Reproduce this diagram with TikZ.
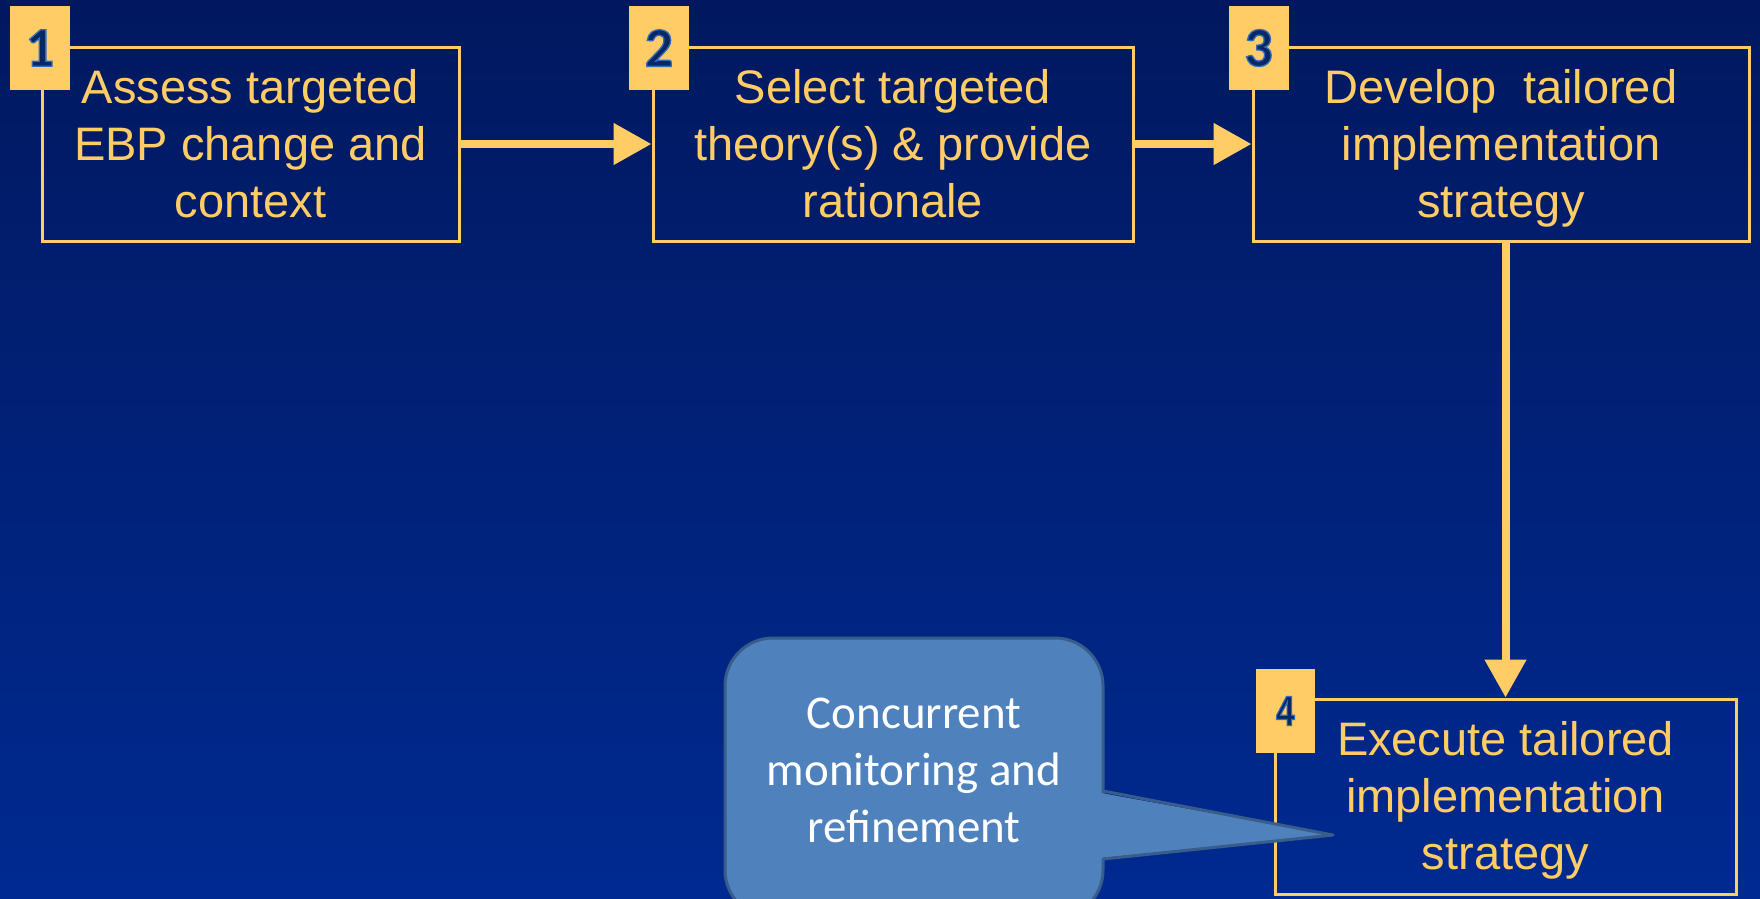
\documentclass[tikz,border=0pt]{standalone}
\usepackage{fontspec}
\usepackage{graphicx}
\setmainfont{Liberation Sans}
\newfontfamily\calibrifont{Carlito}
\usetikzlibrary{arrows.meta}

\definecolor{bgtop}{RGB}{1,24,95}
\definecolor{bgbot}{RGB}{0,42,145}
\definecolor{gold}{RGB}{255,204,102}
\definecolor{calloutfill}{RGB}{79,129,189}
\definecolor{calloutedge}{RGB}{56,93,138}
\definecolor{numblue}{RGB}{8,40,100}

% struts giving every three-line label the same vertical extent
\newcommand\lnup{\rule{0pt}{42pt}}
\newcommand\lndown{\rule[-10pt]{0pt}{10pt}}
% digit with a light blue rim
\newcommand\rimdigit[1]{{\color{numblue}\special{pdf:literal direct 0.2 0.42 0.74 RG 1.3 w 2 Tr}#1\special{pdf:literal direct 0 Tr}}}

\tikzset{
  stepbox/.style={draw=gold, line width=3pt, text=gold, align=center, inner sep=0pt,
    font=\fontsize{47}{57}\selectfont},
  badge/.style={fill=gold, minimum width=60pt, minimum height=84pt, inner sep=0pt},
  flow/.style={draw=gold, line width=8pt, -{Triangle[length=38pt,width=40pt]}},
  callout/.style={fill=calloutfill, draw=calloutedge, line width=3pt},
}

\begin{document}
\begin{tikzpicture}[x=1pt, y=-1pt]
  \useasboundingbox (0,0) rectangle (1760,898);
  % background
  \shade[top color=bgtop, bottom color=bgbot] (0,0) rectangle (1760,898);

  % process steps
  \node[stepbox, minimum width=417pt, minimum height=194pt] (b1) at (250.5,144)
    {\lnup Assess targeted\\EBP change and\\context\lndown};
  \node[stepbox, minimum width=480pt, minimum height=194pt] (b2) at (893,144)
    {\lnup Select targeted\\theory(s) \& provide\\rationale\lndown};
  \node[stepbox, minimum width=496pt, minimum height=194pt] (b3) at (1501,144)
    {\lnup Develop\ \ tailored\\implementation\\strategy\lndown};
  \node[stepbox, minimum width=461pt, minimum height=195pt] (b4) at (1505.5,796.5)
    {\lnup Execute tailored\\implementation\\strategy\lndown};

  % connectors
  \draw[flow] (b1.east) -- (b2.west);
  \draw[flow] (b2.east) -- (b3.west);
  \draw[flow] (b3.south -| b4.north) -- (b4.north);

  % step numbers
  \node[badge, font=\calibrifont\bfseries\fontsize{56}{56}\selectfont] (n1) at (40,48) {\rimdigit{1}};
  \node[badge, font=\calibrifont\bfseries\fontsize{56}{56}\selectfont] (n2) at (659,48) {\rimdigit{2}};
  \node[badge, font=\calibrifont\bfseries\fontsize{56}{56}\selectfont] (n3) at (1258.5,48) {\rimdigit{3}};
  \node[badge, minimum width=59pt, font=\bfseries\fontsize{42}{42}\selectfont] (n4) at (1285.5,711)
    {\scalebox{0.8}[1]{\rimdigit{4}}};

  % speech bubble
  \coordinate (tip) at (1333,835);
  \draw[callout, rounded corners=48pt] (725,638) rectangle (1103,918);
  \fill[calloutfill] (1090,791) -- (tip) -- (1090,859) -- cycle;
  \draw[calloutedge, line width=3pt, line join=round] (1103,791) -- (tip) -- (1103,859);
  \node[text=white, align=center, inner sep=0pt,
        font=\calibrifont\fontsize{47}{57}\selectfont] (note) at (914,769)
    {\lnup Concurrent\\monitoring and\\refinement\lndown};
\end{tikzpicture}
\end{document}
